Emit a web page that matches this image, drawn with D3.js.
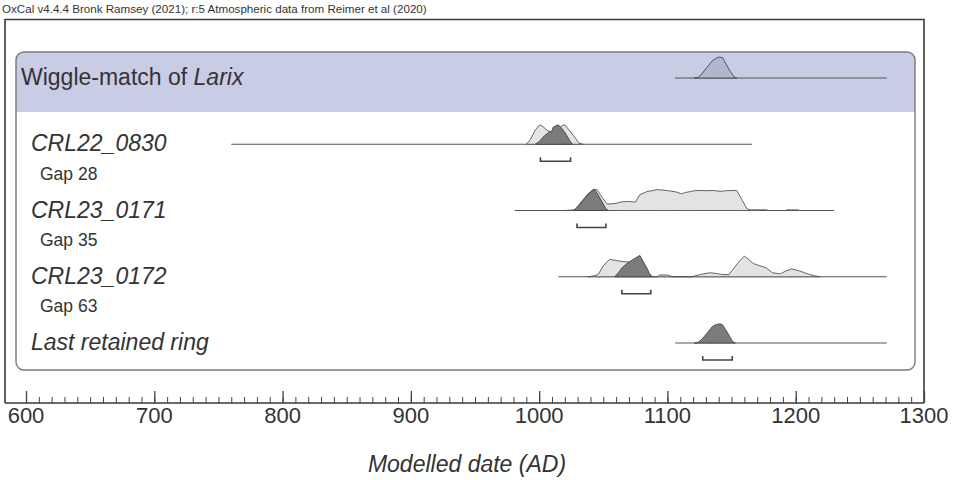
<!DOCTYPE html>
<html>
<head>
<meta charset="utf-8">
<script src="https://cdn.jsdelivr.net/npm/d3@7"></script>
<style>
  html, body { margin: 0; padding: 0; background: #fff; }
  svg { display: block; font-family: "Liberation Sans", Arial, sans-serif; }
</style>
</head>
<body>
<svg id="chart" width="954" height="480"></svg>
<script>
// ---------------- DATA ----------------
const headerText = "OxCal v4.4.4 Bronk Ramsey (2021); r:5 Atmospheric data from Reimer et al (2020)";
const axisTitle = "Modelled date (AD)";
const majorTicks = [600, 700, 800, 900, 1000, 1100, 1200, 1300];
const minorTicks = d3.range(600, 1301, 10);

const rowNames = ["Wiggle-match of Larix", "CRL22_0830", "CRL23_0171", "CRL23_0172", "Last retained ring"];
const gapLabels = ["Gap 28", "Gap 35", "Gap 63"];

// extents of the horizontal range lines (years)
const rangeLines = [[1106, 1271], [760, 1166], [981, 1230], [1015, 1271], [1106, 1271]];

// 95.4% brackets (years)
const brackets = [null, [1001, 1024.5], [1029.5, 1052], [1064.5, 1087], [1127.5, 1150.5]];

// Wiggle-match of Larix: posterior [year, relative probability]
const larixPost = [[1121,0],[1124,0.03],[1127,0.2],[1131,0.5],[1135,0.78],[1138,0.9],[1140,0.95],[1143,0.92],[1146,0.6],[1149,0.3],[1152,0.05],[1154,0]];

// CRL22_0830
const crl22Prior = [[990,0],[993,0.2],[997,0.65],[1000.5,0.88],[1003,0.8],[1007,0.6],[1011,0.55],[1015,0.7],[1018,0.85],[1020,0.88],[1024,0.6],[1028,0.3],[1031,0.05],[1034,0]];
const crl22Post = [[997,0],[1000,0.12],[1004,0.38],[1008,0.55],[1010,0.6],[1011,0.78],[1013,0.84],[1015,0.88],[1018,0.7],[1021,0.45],[1024,0.15],[1026,0]];

// CRL23_0171
const crl0171Prior = [[1020,0],[1025,0.02],[1028,0.05],[1033,0.4],[1038,0.75],[1042,0.95],[1045,0.96],[1049,0.6],[1053,0.3],[1056,0.3],[1060,0.32],[1063,0.38],[1068,0.41],[1072,0.4],[1075,0.38],[1078.5,0.72],[1084,0.86],[1088,0.9],[1092,0.95],[1096,0.93],[1099,0.91],[1103,0.88],[1107,0.84],[1111,0.76],[1114,0.82],[1118,0.86],[1121,0.9],[1125,0.91],[1130,0.9],[1136,0.91],[1141,0.87],[1146,0.9],[1151,0.91],[1154,0.91],[1158,0.5],[1162,0.08],[1165,0.03],[1177,0.03],[1179,0],[1192,0],[1193,0.03],[1202,0.03],[1203,0]];
const crl0171Post = [[1027,0],[1030,0.15],[1034,0.45],[1038,0.7],[1041,0.88],[1043.5,0.94],[1046,0.7],[1049,0.4],[1052,0.08],[1054,0]];

// CRL23_0172
const crl0172Prior = [[1038,0],[1042,0.03],[1046,0.1],[1050,0.5],[1055,0.79],[1059,0.75],[1063,0.71],[1067,0.68],[1071,0.67],[1075,0.63],[1079,0.45],[1083,0.2],[1088,0],[1092,0],[1094,0.08],[1100,0.08],[1104,0],[1119,0],[1124,0.08],[1128,0.13],[1133,0.18],[1138,0.15],[1143,0.1],[1148,0.1],[1152,0.4],[1156,0.7],[1160,0.94],[1164,0.75],[1167,0.6],[1172,0.5],[1177,0.4],[1182,0.18],[1188,0.13],[1192,0.25],[1197,0.36],[1203,0.26],[1207,0.18],[1211,0.1],[1215,0.04],[1219,0]];
const crl0172Post = [[1059,0],[1062,0.2],[1064.5,0.4],[1068,0.58],[1071,0.7],[1075,0.85],[1078.5,0.97],[1081,0.7],[1084,0.4],[1086,0.15],[1088,0]];

// Last retained ring
const lastPost = [[1121,0],[1124,0.03],[1127,0.18],[1131,0.45],[1135,0.75],[1138,0.84],[1141,0.87],[1143,0.82],[1146,0.55],[1149,0.25],[1151,0.05],[1153,0]];

const rowPriors = [null, crl22Prior, crl0171Prior, crl0172Prior, null];
const rowPosts = [larixPost, crl22Post, crl0171Post, crl0172Post, lastPost];

// ---------------- CHART ----------------
const svg = d3.select("#chart");

const x = d3.scaleLinear().domain([600, 1300]).range([26, 924]);
const rowY = d3.scalePoint().domain(d3.range(rowNames.length)).range([78, 343]);
const h = d3.scaleLinear().domain([0, 1]).range([0, 22]);

const textCol = "#333";

// header
svg.append("text")
  .attr("x", 2).attr("y", 13)
  .attr("font-size", 11.6)
  .attr("fill", textCol)
  .text(headerText);

// outer frame (left, top, right); bottom is the axis line
const frameL = 5, frameR = x(1300), frameT = 19.5, frameB = 403;
svg.append("path")
  .attr("d", `M${frameL},${frameB} V${frameT} H${frameR} V${frameB}`)
  .attr("fill", "none").attr("stroke", "#3a3a3a").attr("stroke-width", 1.6);

// inner rounded panel
const panel = {x: 16, y: 52, w: 899, h: 318, r: 8};
svg.append("defs").append("clipPath").attr("id", "panelClip")
  .append("rect").attr("x", panel.x).attr("y", panel.y)
  .attr("width", panel.w).attr("height", panel.h).attr("rx", panel.r);

svg.append("rect")
  .attr("x", panel.x).attr("y", panel.y).attr("width", panel.w).attr("height", panel.h)
  .attr("rx", panel.r).attr("fill", "#fff");

// highlight band for wiggle-match
svg.append("rect")
  .attr("clip-path", "url(#panelClip)")
  .attr("x", panel.x).attr("y", panel.y).attr("width", panel.w).attr("height", 60)
  .attr("fill", "#c9cce5");

svg.append("rect")
  .attr("x", panel.x).attr("y", panel.y).attr("width", panel.w).attr("height", panel.h)
  .attr("rx", panel.r).attr("fill", "none").attr("stroke", "#7a7a7a").attr("stroke-width", 1.4);

// rows
const area = base => d3.area()
  .x(d => x(d[0]))
  .y0(base)
  .y1(d => base - h(d[1]));

rowNames.forEach((name, i) => {
  const base = rowY(i);
  const g = svg.append("g");

  // range line
  g.append("line")
    .attr("x1", x(rangeLines[i][0])).attr("x2", x(rangeLines[i][1]))
    .attr("y1", base).attr("y2", base)
    .attr("stroke", "#555").attr("stroke-width", 1.2);

  if (rowPriors[i]) {
    g.append("path").datum(rowPriors[i])
      .attr("d", area(base))
      .attr("fill", "#e3e3e3").attr("stroke", "#555").attr("stroke-width", 0.9)
      .attr("stroke-linejoin", "round");
  }
  g.append("path").datum(rowPosts[i])
    .attr("d", area(base))
    .attr("fill", i === 0 ? "#b3b6cf" : "#7b7b7b")
    .attr("stroke", "#444").attr("stroke-width", 0.9)
    .attr("stroke-linejoin", "round");

  if (brackets[i]) {
    const by = base + 17;
    g.append("path")
      .attr("d", `M${x(brackets[i][0])},${by - 4} V${by} H${x(brackets[i][1])} V${by - 4}`)
      .attr("fill", "none").attr("stroke", "#444").attr("stroke-width", 1.6);
  }

  // label
  const t = g.append("text")
    .attr("x", i === 0 ? 21 : 31)
    .attr("y", base + 7)
    .attr("font-size", 23)
    .attr("fill", textCol);
  if (i === 0) {
    t.append("tspan").text("Wiggle-match of ");
    t.append("tspan").attr("font-style", "italic").text("Larix");
  } else {
    t.attr("font-style", "italic").text(name);
  }

  if (i >= 1 && i <= gapLabels.length) {
    g.append("text")
      .attr("x", 40).attr("y", base + 35.5)
      .attr("font-size", 17.5).attr("fill", textCol)
      .text(gapLabels[i - 1]);
  }
});

// axis
const axisG = svg.append("g").attr("transform", `translate(0,${frameB})`);
axisG.append("g")
  .call(d3.axisTop(x).tickValues(minorTicks).tickSize(6).tickFormat(""))
  .call(s => s.select(".domain").remove())
  .selectAll("line").attr("stroke", "#444").attr("stroke-width", 1);
axisG.append("g")
  .call(d3.axisTop(x).tickValues(majorTicks).tickSize(12).tickFormat(""))
  .call(s => s.select(".domain").remove())
  .selectAll("line").attr("stroke", "#444").attr("stroke-width", 1.3);
axisG.append("line")
  .attr("x1", frameL).attr("x2", frameR).attr("y1", 0).attr("y2", 0)
  .attr("stroke", "#3a3a3a").attr("stroke-width", 1.6);

axisG.selectAll("text.ticklab").data(majorTicks).join("text")
  .attr("class", "ticklab")
  .attr("x", d => x(d)).attr("y", 20)
  .attr("text-anchor", "middle")
  .attr("font-size", 22)
  .attr("fill", textCol)
  .text(d => d);

svg.append("text")
  .attr("x", 467).attr("y", 472)
  .attr("text-anchor", "middle")
  .attr("font-size", 23)
  .attr("font-style", "italic")
  .attr("fill", textCol)
  .text(axisTitle);
</script>
</body>
</html>
